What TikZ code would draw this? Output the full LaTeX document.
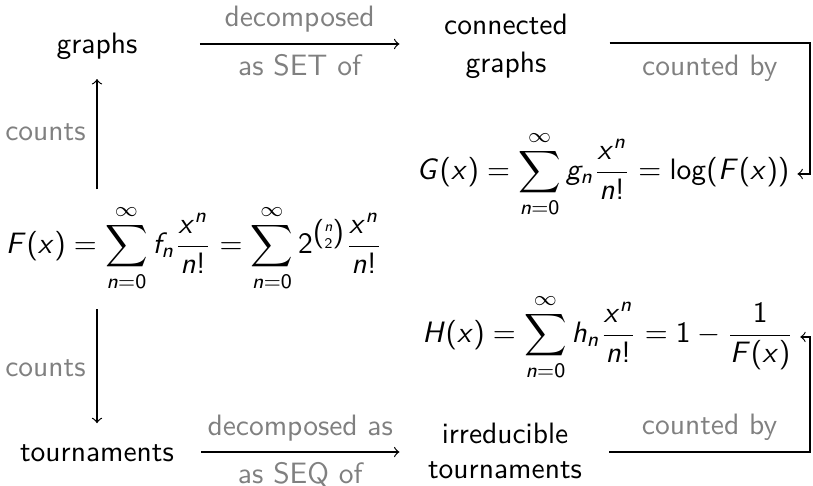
\documentclass[tikz,border=0pt]{standalone}
\usepackage{amsmath}
\renewcommand{\familydefault}{\sfdefault}
\DeclareSymbolFont{sfit}{OT1}{cmss}{m}{sl}
\SetSymbolFont{operators}{normal}{OT1}{cmss}{m}{n}
\DeclareMathSymbol{F}{\mathalpha}{sfit}{`F}
\DeclareMathSymbol{G}{\mathalpha}{sfit}{`G}
\DeclareMathSymbol{H}{\mathalpha}{sfit}{`H}
\DeclareMathSymbol{x}{\mathalpha}{sfit}{`x}
\DeclareMathSymbol{n}{\mathalpha}{sfit}{`n}
\DeclareMathSymbol{f}{\mathalpha}{sfit}{`f}
\DeclareMathSymbol{g}{\mathalpha}{sfit}{`g}
\DeclareMathSymbol{h}{\mathalpha}{sfit}{`h}
\begin{document}
\begin{tikzpicture}[x=0.339pt,y=-0.339pt,
  font=\sffamily,
  txt/.style={inner sep=0pt},
  lbl/.style={text=black!50, font=\sffamily},
  arr/.style={->, >=to, line width=0.4pt},
  ln/.style={line width=0.4pt}]
\useasboundingbox (0,0) rectangle (813,486);
% nodes
\node[txt] (graphs) at (97,46) {graphs};
\node[txt, align=center, anchor=north] (cg) at (506,13) {connected\\[1pt]graphs};
\node[txt, anchor=base] (G) at (603,179.5) {$\displaystyle G(x)=\sum_{n=0}^{\infty} g_n\frac{x^n}{n!}=\log(F(x))$};
\node[txt, anchor=base] (F) at (194,253.5) {$\displaystyle F(x)=\sum_{n=0}^{\infty} f_n\frac{x^n}{n!}=\sum_{n=0}^{\infty} 2^{\binom{n}{2}}\frac{x^n}{n!}$};
\node[txt, anchor=base] (H) at (608,342.5) {$\displaystyle H(x)=\sum_{n=0}^{\infty} h_n\frac{x^n}{n!}=1-\frac{1}{F(x)}$};
\node[txt] (tour) at (97,453) {tournaments};
\node[txt, align=center, anchor=north] (irr) at (505,422) {irreducible\\tournaments};
% corner coordinates
\coordinate (c1) at (810,43);
\coordinate (c2) at (810,452);
% top arrow
\draw[arr] ([xshift=21pt]graphs.east |- 0,44) -- node[lbl, above=0.3pt] {decomposed} node[lbl, below=0pt] {as SET of} ([xshift=-15pt]cg.west |- 0,44);
% bottom arrow
\draw[arr] ([xshift=9pt]tour.east |- 0,452) -- node[lbl, above=0pt] {decomposed as} node[lbl, below=0pt] {as SEQ of} ([xshift=-9.5pt]irr.west |- 0,452);
% counted by (top)
\draw[arr] ([xshift=14pt]cg.east |- c1) -- node[lbl, below=0.5pt] {counted by} (c1) -- (c1 |- G.east) -- ([xshift=2.5pt]G.east);
% counted by (bottom)
\draw[arr] ([xshift=9pt]irr.east |- c2) -- node[lbl, above=0.2pt] {counted by} (c2) -- (c2 |- H.east) -- ([xshift=2pt]H.east);
% counts arrows
\draw[arr, shorten <=5pt, shorten >=6.5pt] (graphs |- F.north) -- node[lbl, left=0.3pt] {counts} (graphs.south);
\draw[arr, shorten <=6pt, shorten >=7pt] (graphs |- F.south) -- node[lbl, left=0.3pt] {counts} (tour.north);
\end{tikzpicture}
\end{document}
